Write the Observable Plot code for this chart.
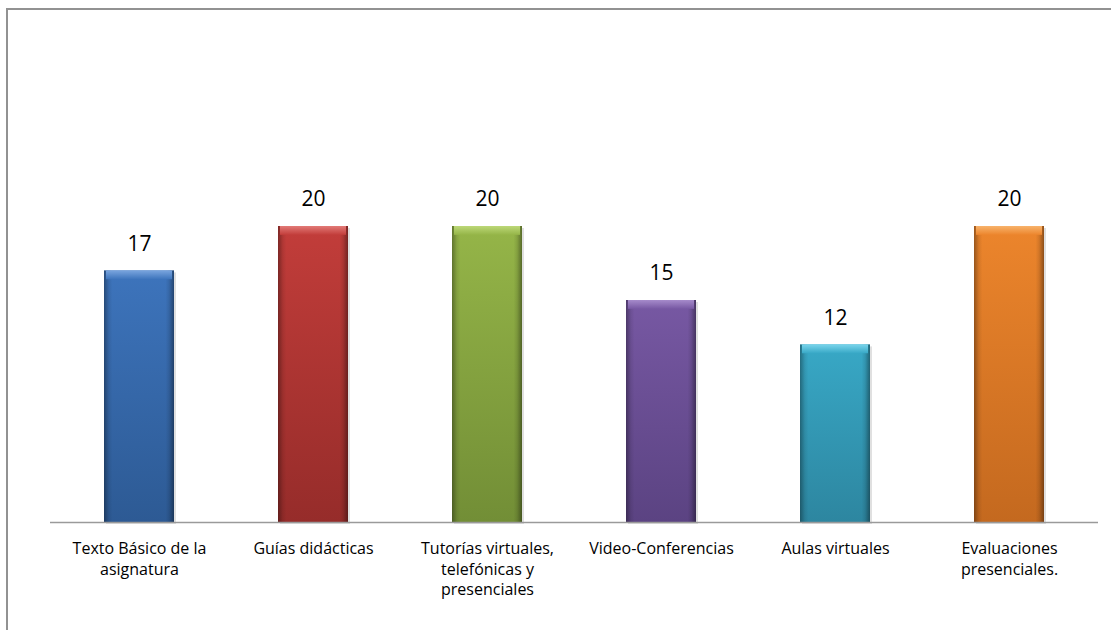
<!DOCTYPE html>
<html><head><meta charset="utf-8">
<script src="https://cdn.jsdelivr.net/npm/d3@7"></script>
<script src="https://cdn.jsdelivr.net/npm/@observablehq/plot@0.6"></script>
<style>
body{margin:0;background:#fff;}
#wrap{position:relative;width:1111px;height:630px;overflow:hidden;background:#fff;}
#wrap svg{position:absolute;left:0;top:0;}
#frame{position:absolute;left:6px;top:8px;width:1200px;height:700px;border-top:2px solid #929292;border-left:2px solid #929292;pointer-events:none;}
</style></head><body><div id="wrap"></div>
<script>
const categories = ["Texto Básico de la asignatura","Guías didácticas","Tutorías virtuales, telefónicas y presenciales","Video-Conferencias","Aulas virtuales","Evaluaciones presenciales."];
const values = [17, 20, 20, 15, 12, 20];
const tickLabels = ["Texto Básico de la\nasignatura","Guías didácticas","Tutorías virtuales,\ntelefónicas y\npresenciales","Video-Conferencias","Aulas virtuales","Evaluaciones\npresenciales."];
const colorsTop = ["#3D74BC","#C23D3A","#95B548","#7758A3","#38A8C6","#EC852C"];
const colorsBottom = ["#2D5A94","#962C2A","#728E36","#5B4382","#2D86A0","#C4691F"];
const colorsBevel = ["#7AA5DE","#E27A77","#BDD878","#A68BCB","#7AD5EC","#F8B36C"];

const data = categories.map((c, i) => ({category: c, value: values[i], i}));
const labelOf = new Map(categories.map((c, i) => [c, tickLabels[i]]));

const chart = Plot.plot({
  width: 1111,
  height: 630,
  marginLeft: 50,
  marginRight: 13,
  marginTop: 152,
  marginBottom: 108,
  style: {fontFamily: "'Open Sans', Lato, sans-serif", background: "transparent"},
  x: {domain: categories, paddingInner: 0.6, paddingOuter: 0.3, label: null},
  y: {domain: [0, 25], axis: null},
  color: {type: "identity"},
  marks: [
    Plot.barY(data, {x: "category", y: "value", fill: "#000", fillOpacity: 0.12, dx: 2, dy: 2}),
    Plot.barY(data, {x: "category", y: "value", fill: d => `url(#barGrad${d.i})`}),
    Plot.barY(data, {x: "category", y: "value", fill: "url(#sideGrad)"}),
    Plot.barY(data, {x: "category", y1: d => d.value, y2: d => d.value - 0.6, fill: d => `url(#bevelGrad${d.i})`, insetLeft: 2, insetRight: 2}),
    Plot.ruleY([0], {stroke: "#9a9a9a", strokeWidth: 1.5}),
    Plot.text(data, {x: "category", y: "value", text: d => String(d.value), dy: -27, fontSize: 21, fill: "#000", lineAnchor: "middle"}),
    Plot.axisX({tickSize: 0, tickPadding: 17, fontSize: 16, lineHeight: 1.28, tickFormat: d => labelOf.get(d), fill: "#000", label: null, textOverflow: null})
  ]
});

const svg = d3.select(chart);
const defs = svg.insert("defs", ":first-child");
colorsTop.forEach((c, i) => {
  const g = defs.append("linearGradient").attr("id", `barGrad${i}`).attr("x1", 0).attr("y1", 0).attr("x2", 0).attr("y2", 1);
  g.append("stop").attr("offset", "0%").attr("stop-color", c);
  g.append("stop").attr("offset", "100%").attr("stop-color", colorsBottom[i]);
  const b = defs.append("linearGradient").attr("id", `bevelGrad${i}`).attr("x1", 0).attr("y1", 0).attr("x2", 0).attr("y2", 1);
  b.append("stop").attr("offset", "0%").attr("stop-color", colorsBevel[i]);
  b.append("stop").attr("offset", "100%").attr("stop-color", c);
});
const s = defs.append("linearGradient").attr("id", "sideGrad").attr("x1", 0).attr("y1", 0).attr("x2", 1).attr("y2", 0);
[[0, 0.35], [0.07, 0.08], [0.12, 0], [0.88, 0], [0.93, 0.1], [1, 0.4]].forEach(([o, a]) =>
  s.append("stop").attr("offset", o).attr("stop-color", "#000").attr("stop-opacity", a));

const wrap = document.getElementById("wrap");
wrap.appendChild(chart);
const frame = document.createElement("div");
frame.id = "frame";
wrap.appendChild(frame);
</script>
</body></html>
